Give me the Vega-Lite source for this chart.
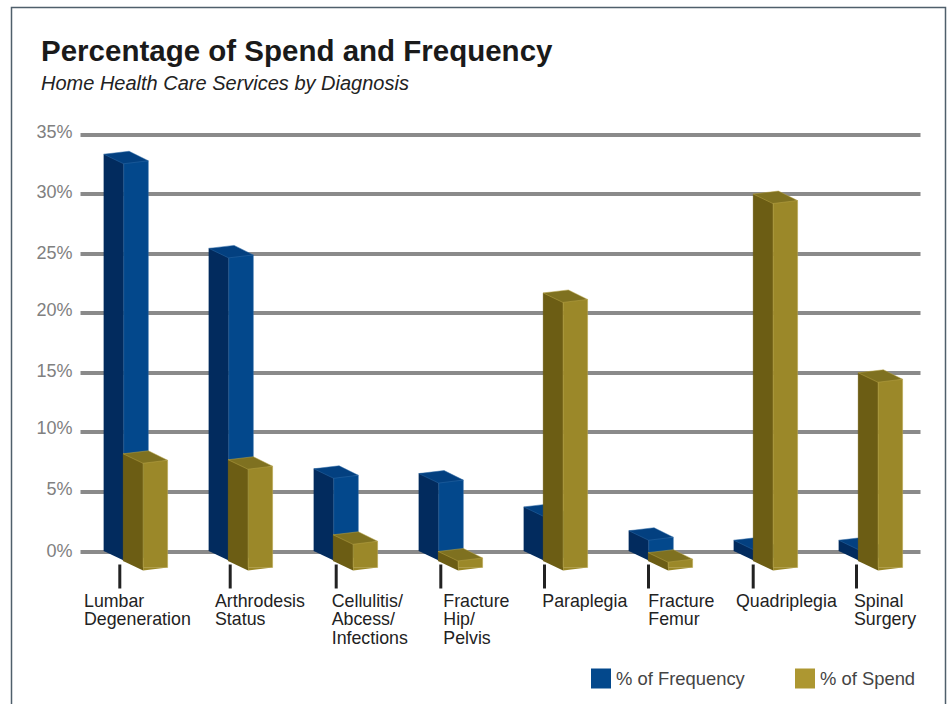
{
"$schema":"https://vega.github.io/schema/vega-lite/v6.json",
"width":934,"height":698,
"autosize":"none",
"padding":{"left":11.5,"top":7.5,"right":2.5,"bottom":-1.5},
"background":"#ffffff",
"config":{"view":{"stroke":"#4f5f6b","strokeWidth":1.5,"fill":"#ffffff"}},
"title":{"text":"Percentage of Spend and Frequency","subtitle":"Home Health Care Services by Diagnosis","anchor":"start","frame":"group","dx":29.5,"dy":91,"font":"Liberation Sans","fontSize":29.5,"fontWeight":"bold","color":"#1a1a1a","subtitleFont":"Liberation Sans","subtitleFontSize":20,"subtitleFontStyle":"italic","subtitleColor":"#222222","subtitlePadding":6},
"data":{"values":[
{"diagnosis":"Lumbar Degeneration","series":"% of Frequency","value":33.3},
{"diagnosis":"Arthrodesis Status","series":"% of Frequency","value":25.4},
{"diagnosis":"Cellulitis/ Abcess/ Infections","series":"% of Frequency","value":6.9},
{"diagnosis":"Fracture Hip/ Pelvis","series":"% of Frequency","value":6.5},
{"diagnosis":"Paraplegia","series":"% of Frequency","value":3.7},
{"diagnosis":"Fracture Femur","series":"% of Frequency","value":1.7},
{"diagnosis":"Quadriplegia","series":"% of Frequency","value":0.9},
{"diagnosis":"Spinal Surgery","series":"% of Frequency","value":0.9},
{"diagnosis":"Lumbar Degeneration","series":"% of Spend","value":9.0},
{"diagnosis":"Arthrodesis Status","series":"% of Spend","value":8.5},
{"diagnosis":"Cellulitis/ Abcess/ Infections","series":"% of Spend","value":2.2},
{"diagnosis":"Fracture Hip/ Pelvis","series":"% of Spend","value":0.8},
{"diagnosis":"Paraplegia","series":"% of Spend","value":22.5},
{"diagnosis":"Fracture Femur","series":"% of Spend","value":0.7},
{"diagnosis":"Quadriplegia","series":"% of Spend","value":30.8},
{"diagnosis":"Spinal Surgery","series":"% of Spend","value":15.8}
]},
"encoding":{
"x":{"field":"diagnosis","type":"nominal","sort":null,"title":null,
"scale":{"domain":["Lumbar Degeneration","Arthrodesis Status","Cellulitis/ Abcess/ Infections","Fracture Hip/ Pelvis","Paraplegia","Fracture Femur","Quadriplegia","Spinal Surgery"],"range":[68.5,908.5],"paddingInner":0,"paddingOuter":0},
"axis":{"orient":"bottom","offset":-141.5,"domain":false,"grid":false,"tickSize":24,"tickWidth":3,"tickColor":"#222222","labelAngle":0,"labelAlign":"left","labelBaseline":"top","labelPadding":4,"labelFont":"Liberation Sans","labelFontSize":17.8,"labelColor":"#222222","labelOverlap":false,"labelBound":false,"labelFlush":false,"labelLimit":0,"labelLineHeight":18.5,
"labelExpr":"split(datum.label,' ')",
"encoding":{
"labels":{"dx":{"value":{"expr":"{'Lumbar Degeneration':-48.5,'Arthrodesis Status':-22.5,'Cellulitis/ Abcess/ Infections':-10.8,'Fracture Hip/ Pelvis':-4.2,'Paraplegia':-10.2,'Fracture Femur':-9.2,'Quadriplegia':-26.5,'Spinal Surgery':-13.5}[datum.value]"}}},
"ticks":{"x":{"value":{"expr":"scale('x',datum.value)+bandwidth('x')/2+{'Lumbar Degeneration':-13.2,'Arthrodesis Status':-7.8,'Cellulitis/ Abcess/ Infections':-6.8,'Fracture Hip/ Pelvis':-7.2,'Paraplegia':-8.5,'Fracture Femur':-9.5,'Quadriplegia':-9.8,'Spinal Surgery':-11.5}[datum.value]"}}}
}}},
"y":{"field":"value","type":"quantitative","stack":null,"title":null,
"scale":{"domain":[0,35],"range":[543.5,126.5],"nice":false,"zero":true},
"axis":{"orient":"left","offset":-68.5,"values":[0,5,10,15,20,25,30,35],"format":".0f","labelExpr":"datum.label+'%'","domain":false,"ticks":false,"grid":true,"gridColor":"#8a8a8a","gridWidth":4,"gridOpacity":1,"labelPadding":8,"labelFont":"Liberation Sans","labelFontSize":18,"labelColor":"#808080","labelBound":false,"labelFlush":false,
"encoding":{"labels":{"dy":{"value":{"expr":"{'35':-2,'30':-1,'25':0,'20':-2,'15':-1,'10':-3,'5':-2,'0':0}[datum.value]"}}}}}},
"y2":{"datum":0}
},
"layer":[
{"transform":[{"filter":"datum.series=='% of Frequency'"}],"layer":[
{"mark":{"type":"bar","width":20,"xOffset":-18.7,"color":"#022b5e","stroke":"#022b5e","strokeWidth":0.3}},
{"mark":{"type":"point","filled":true,"opacity":1,"shape":"M0 0L20 0L20 9.5Z","size":4,"xOffset":-28.7,"color":"#022b5e"},"encoding":{"y":{"datum":0},"y2":null}},
{"mark":{"type":"bar","width":24.5,"xOffset":3.55,"yOffset":6.5,"y2Offset":6.5,"stroke":"#2f6aa6","strokeWidth":0.5},"encoding":{"color":{"field":"series","type":"nominal","scale":{"domain":["% of Frequency","% of Spend"],"range":["#03488c","#ad9731"]},"legend":{"title":null,"orient":"none","legendX":579.5,"legendY":661,"direction":"horizontal","columns":2,"symbolType":"square","symbolSize":400,"symbolStrokeWidth":0,"columnPadding":50,"labelOffset":5,"labelFont":"Liberation Sans","labelFontSize":18.4,"labelColor":"#444444","labelLimit":0}}}},
{"mark":{"type":"point","filled":true,"opacity":1,"shape":"M20 6.5L44.5 6.5L20 9.5Z","size":4,"xOffset":-28.7,"color":"#03488c"},"encoding":{"y":{"datum":0},"y2":null}},
{"mark":{"type":"point","filled":true,"opacity":1,"shape":"M0 0L25.3 -3L44.5 6.5L19.8 9.5Z","size":4,"xOffset":-28.7,"color":"#034080","stroke":"#2f6aa6","strokeWidth":0.5},"encoding":{"y2":null}}
]},
{"transform":[{"filter":"datum.series=='% of Spend'"}],"layer":[
{"mark":{"type":"bar","width":20,"xOffset":0.6,"yOffset":10,"y2Offset":10,"color":"#6c5d14","stroke":"#6c5d14","strokeWidth":0.3}},
{"mark":{"type":"point","filled":true,"opacity":1,"shape":"M0 0L20 0L20 9.5Z","size":4,"xOffset":-9.4,"yOffset":10,"color":"#6c5d14"},"encoding":{"y":{"datum":0},"y2":null}},
{"mark":{"type":"bar","width":24.5,"xOffset":22.85,"yOffset":16.5,"y2Offset":16.5,"color":"#9b8829","stroke":"#b8a548","strokeWidth":0.5}},
{"mark":{"type":"point","filled":true,"opacity":1,"shape":"M20 6.5L44.5 6.5L20 9.5Z","size":4,"xOffset":-9.4,"yOffset":10,"color":"#9b8829"},"encoding":{"y":{"datum":0},"y2":null}},
{"mark":{"type":"point","filled":true,"opacity":1,"shape":"M0 0L25.3 -3L44.5 6.5L19.8 9.5Z","size":4,"xOffset":-9.4,"yOffset":10,"color":"#7f7120","stroke":"#b8a548","strokeWidth":0.5},"encoding":{"y2":null}}
]}
]
}
